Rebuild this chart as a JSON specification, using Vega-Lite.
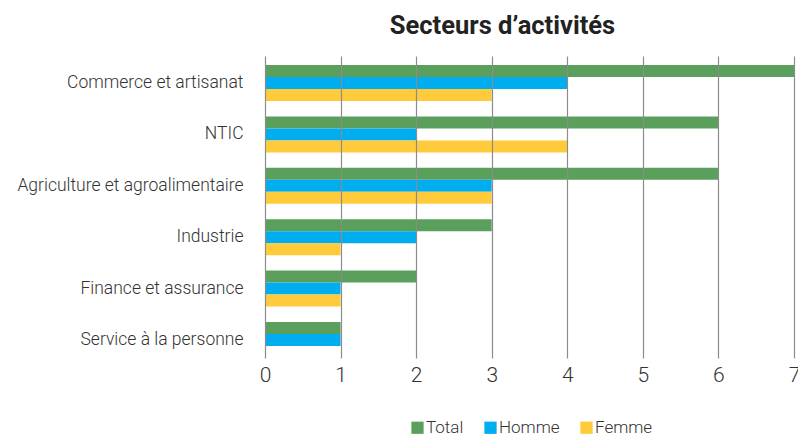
{
  "$schema": "https://vega.github.io/schema/vega-lite/v6.json",
  "autosize": "none",
  "padding": {"left": 265, "top": 56, "right": 4, "bottom": 76},
  "width": 529,
  "height": 302,
  "background": "white",
  "title": {
    "text": "Secteurs d’activités",
    "fontSize": 25.5,
    "font": "Roboto",
    "fontWeight": "bold",
    "color": "#222222",
    "anchor": "middle",
    "dx": -27,
    "offset": 17
  },
  "config": {
    "view": {"stroke": null},
    "font": "Roboto"
  },
  "data": {
    "values": [
      {"secteur": "Commerce et artisanat", "serie": "Total", "valeur": 7},
      {"secteur": "Commerce et artisanat", "serie": "Homme", "valeur": 4},
      {"secteur": "Commerce et artisanat", "serie": "Femme", "valeur": 3},
      {"secteur": "NTIC", "serie": "Total", "valeur": 6},
      {"secteur": "NTIC", "serie": "Homme", "valeur": 2},
      {"secteur": "NTIC", "serie": "Femme", "valeur": 4},
      {"secteur": "Agriculture et agroalimentaire", "serie": "Total", "valeur": 6},
      {"secteur": "Agriculture et agroalimentaire", "serie": "Homme", "valeur": 3},
      {"secteur": "Agriculture et agroalimentaire", "serie": "Femme", "valeur": 3},
      {"secteur": "Industrie", "serie": "Total", "valeur": 3},
      {"secteur": "Industrie", "serie": "Homme", "valeur": 2},
      {"secteur": "Industrie", "serie": "Femme", "valeur": 1},
      {"secteur": "Finance et assurance", "serie": "Total", "valeur": 2},
      {"secteur": "Finance et assurance", "serie": "Homme", "valeur": 1},
      {"secteur": "Finance et assurance", "serie": "Femme", "valeur": 1},
      {"secteur": "Service à la personne", "serie": "Total", "valeur": 1},
      {"secteur": "Service à la personne", "serie": "Homme", "valeur": 1},
      {"secteur": "Service à la personne", "serie": "Femme", "valeur": 0}
    ]
  },
  "mark": {"type": "bar"},
  "encoding": {
    "y": {
      "field": "secteur",
      "type": "nominal",
      "sort": ["Commerce et artisanat", "NTIC", "Agriculture et agroalimentaire", "Industrie", "Finance et assurance", "Service à la personne"],
      "scale": {"paddingInner": 0.3, "paddingOuter": 0.0875, "align": 1},
      "axis": {
        "title": null,
        "domain": false,
        "ticks": false,
        "labelFontSize": 17.5,
        "labelColor": "#333333",
        "labelPadding": 22,
        "labelLimit": 0,
        "labelFont": "Roboto",
        "labelFontWeight": 300
      }
    },
    "yOffset": {
      "field": "serie",
      "type": "nominal",
      "sort": ["Total", "Homme", "Femme"]
    },
    "x": {
      "field": "valeur",
      "type": "quantitative",
      "scale": {"domain": [0, 7], "nice": false},
      "axis": {
        "title": null,
        "values": [0, 1, 2, 3, 4, 5, 6, 7],
        "domain": false,
        "ticks": false,
        "grid": true,
        "gridColor": "#8c8c8c",
        "gridWidth": 1.2,
        "zindex": 1,
        "labelFontSize": 21,
        "labelFontWeight": 300,
        "labelColor": "#333333",
        "labelPadding": 6,
        "labelFlush": false
      }
    },
    "color": {
      "field": "serie",
      "type": "nominal",
      "sort": ["Total", "Homme", "Femme"],
      "scale": {"domain": ["Total", "Homme", "Femme"], "range": ["#5aa05c", "#00adef", "#ffcb3a"]},
      "legend": {
        "title": null,
        "orient": "none",
        "direction": "horizontal",
        "legendX": 144,
        "legendY": 363,
        "symbolType": "square",
        "symbolSize": 150,
        "symbolStrokeWidth": 0,
        "labelFontSize": 17,
        "labelFontWeight": 300,
        "labelColor": "#333333",
        "labelOffset": 0,
        "columnPadding": 18
      }
    }
  }
}
